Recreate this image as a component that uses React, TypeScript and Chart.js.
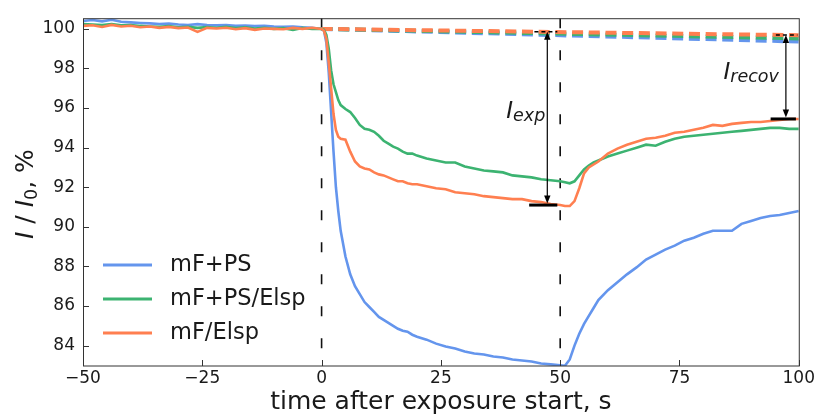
import { useEffect, useRef } from 'react';
import { Chart, registerables } from 'chart.js';

Chart.register(...registerables);

const FONT = '"DejaVu Sans", sans-serif';
const TEXT = '#1a1a1a';

const seriesNames = ['mF+PS', 'mF+PS/Elsp', 'mF/Elsp'];
const seriesColors = ['#6495ED', '#3CB371', '#FF7F50'];

const time = [
  -50, -48, -46, -44, -42, -40, -38, -36, -34, -32, -30, -28, -26, -24, -22, -20, -18, -16, -14, -12, -10, -8, -6, -4, -2,
  0, 0.5, 1, 1.5, 2, 2.5, 3, 3.5, 4,
  5, 6, 7, 8, 9, 10, 11, 12, 13, 14, 15, 16, 17, 18, 19, 20,
  22, 24, 26, 28, 30, 32, 34, 36, 38, 40, 42, 44, 46, 48, 50,
  51, 52, 53, 54, 55, 56, 57, 58,
  60, 62, 64, 66, 68, 70, 72, 74, 76, 78, 80, 82, 84, 86, 88, 90, 92, 94, 96, 98, 100,
];

const mfPS = [
  100.40, 100.45, 100.38, 100.46, 100.36, 100.33, 100.30, 100.28, 100.25, 100.27, 100.22, 100.20, 100.24, 100.20, 100.18, 100.19, 100.15, 100.17, 100.14, 100.16, 100.12, 100.10, 100.12, 100.08, 100.06,
  100.0, 99.9, 99.3, 97.8, 95.8, 93.8, 92.0, 90.8, 89.8,
  88.5, 87.6, 87.0, 86.6, 86.2, 85.95, 85.7, 85.45, 85.3, 85.15, 85.0, 84.85, 84.75, 84.7, 84.55, 84.45,
  84.3, 84.1, 83.95, 83.85, 83.7, 83.6, 83.55, 83.45, 83.4, 83.3, 83.25, 83.2, 83.1, 83.05, 83.0,
  82.98, 83.3, 84.0, 84.6, 85.1, 85.5, 85.9, 86.3,
  86.8, 87.2, 87.6, 87.95, 88.35, 88.6, 88.85, 89.05, 89.3, 89.45, 89.65, 89.8, 89.8, 89.8, 90.15, 90.3, 90.45, 90.55, 90.6, 90.7, 90.8,
];

const mfPSElsp = [
  100.25, 100.22, 100.20, 100.24, 100.18, 100.20, 100.15, 100.12, 100.10, 100.14, 100.08, 100.10, 100.05, 100.09, 100.06, 100.10, 100.04, 100.08, 100.02, 100.05, 100.00, 100.04, 99.95, 100.05, 100.00,
  100.0, 99.95, 99.7, 99.0, 97.9, 97.2, 96.8, 96.4, 96.15,
  95.95, 95.8, 95.5, 95.15, 94.95, 94.9, 94.8, 94.6, 94.35, 94.2, 94.05, 93.95, 93.8, 93.7, 93.7, 93.6,
  93.45, 93.35, 93.25, 93.25, 93.05, 92.95, 92.85, 92.8, 92.75, 92.6, 92.55, 92.5, 92.4, 92.35, 92.3,
  92.25, 92.2, 92.3, 92.6, 92.9, 93.1, 93.25, 93.35,
  93.55, 93.7, 93.85, 94.0, 94.15, 94.1, 94.3, 94.45, 94.55, 94.6, 94.65, 94.7, 94.75, 94.8, 94.85, 94.9, 94.95, 95.0, 95.0, 94.95, 94.95,
];

const mfElsp = [
  100.15, 100.18, 100.10, 100.20, 100.12, 100.16, 100.08, 100.12, 100.05, 100.10, 100.04, 100.07, 99.85, 100.05, 100.02, 100.06, 99.98, 100.04, 99.95, 100.02, 100.00, 99.98, 100.05, 100.00, 100.06,
  100.0, 99.9, 99.5, 98.3, 97.0, 95.7, 94.9, 94.55, 94.45,
  94.4, 93.8, 93.3, 93.05, 92.95, 92.9, 92.75, 92.65, 92.6, 92.5, 92.4, 92.3, 92.3, 92.2, 92.15, 92.15,
  92.05, 91.95, 91.9, 91.75, 91.7, 91.65, 91.55, 91.5, 91.45, 91.4, 91.4, 91.3, 91.25, 91.15, 91.1,
  91.05, 91.05, 91.3, 91.95, 92.7, 93.0, 93.15, 93.3,
  93.7, 93.95, 94.15, 94.3, 94.45, 94.5, 94.6, 94.75, 94.8, 94.9, 95.0, 95.15, 95.1, 95.2, 95.25, 95.3, 95.3, 95.35, 95.4, 95.45, 95.45,
];

// extrapolated baselines (dashed)
const baselineTime = [0, 100];
const baselinePS = [100.0, 99.36];
const baselinePSElsp = [100.0, 99.52];
const baselineElsp = [100.0, 99.68];

// exposure start / end markers
const markerTimes = [0, 50];

const xTicks = [-50, -25, 0, 25, 50, 75, 100];
const yTicks = [84, 86, 88, 90, 92, 94, 96, 98, 100];
const xMin = -50;
const xMax = 100;
const yMin = 82.97;
const yMax = 100.54;

// annotation anchors (data coordinates)
const expMark = { x: 47.3, top: 99.86, bottom: 91.1, barFrom: 43.5, barTo: 49.4, dashFrom: 44.6, dashTo: 49.4, labelY: 95.49, sub: 'exp' };
const recMark = { x: 97.3, top: 99.69, bottom: 95.45, barFrom: 94.1, barTo: 99.4, dashFrom: 95.2, dashTo: 99.7, labelY: 97.46, sub: 'recov' };

type Part = { t: string; size: number; italic?: boolean; dy?: number };

function fontOf(p: Part) {
  return `${p.italic ? 'italic ' : ''}${p.size}px ${FONT}`;
}
function measure(ctx: CanvasRenderingContext2D, parts: Part[]) {
  let w = 0;
  for (const p of parts) {
    ctx.font = fontOf(p);
    w += ctx.measureText(p.t).width;
  }
  return w;
}
function drawParts(ctx: CanvasRenderingContext2D, parts: Part[], x: number, y: number) {
  let cx = x;
  ctx.textAlign = 'left';
  ctx.textBaseline = 'alphabetic';
  for (const p of parts) {
    ctx.font = fontOf(p);
    ctx.fillText(p.t, cx, y + (p.dy || 0));
    cx += ctx.measureText(p.t).width;
  }
}

function arrowHead(ctx: CanvasRenderingContext2D, x: number, tipY: number, dir: number) {
  ctx.beginPath();
  ctx.moveTo(x, tipY);
  ctx.lineTo(x - 3.2, tipY + dir * 8);
  ctx.lineTo(x + 3.2, tipY + dir * 8);
  ctx.closePath();
  ctx.fill();
}

const overlayPlugin = {
  id: 'overlay',
  afterDatasetsDraw(chart: any) {
    const { ctx, chartArea: ca, scales } = chart;
    const xs = scales.x;
    const ys = scales.y;
    ctx.save();

    // spines
    ctx.strokeStyle = '#333';
    ctx.lineWidth = 1;
    ctx.strokeRect(ca.left + 0.5, ca.top + 0.5, ca.right - ca.left, ca.bottom - ca.top - 0.5);

    // inward ticks
    ctx.beginPath();
    for (const t of xs.ticks) {
      const px = Math.round(xs.getPixelForValue(t.value)) + 0.5;
      ctx.moveTo(px, ca.bottom);
      ctx.lineTo(px, ca.bottom - 6);
    }
    for (const t of ys.ticks) {
      const py = Math.round(ys.getPixelForValue(t.value)) + 0.5;
      ctx.moveTo(ca.left, py);
      ctx.lineTo(ca.left + 6, py);
    }
    ctx.stroke();

    // annotations
    ctx.strokeStyle = '#000';
    ctx.fillStyle = '#000';
    for (const m of [expMark, recMark]) {
      const ax = xs.getPixelForValue(m.x);
      const top = ys.getPixelForValue(m.top);
      const bot = ys.getPixelForValue(m.bottom);
      // short dashed reference at top
      ctx.lineWidth = 1.5;
      ctx.setLineDash([4, 3]);
      ctx.beginPath();
      ctx.moveTo(xs.getPixelForValue(m.dashFrom), top);
      ctx.lineTo(xs.getPixelForValue(m.dashTo), top);
      ctx.stroke();
      ctx.setLineDash([]);
      // bar at bottom
      ctx.lineWidth = 3;
      ctx.beginPath();
      ctx.moveTo(xs.getPixelForValue(m.barFrom), bot);
      ctx.lineTo(xs.getPixelForValue(m.barTo), bot);
      ctx.stroke();
      // double arrow
      ctx.lineWidth = 1.2;
      ctx.beginPath();
      ctx.moveTo(ax, top + 6);
      ctx.lineTo(ax, bot - 6);
      ctx.stroke();
      arrowHead(ctx, ax, top, 1);
      arrowHead(ctx, ax, bot - 1.5, -1);
    }

    // labels
    ctx.fillStyle = TEXT;
    const expParts: Part[] = [
      { t: 'I', size: 23, italic: true },
      { t: expMark.sub, size: 17.5, italic: true, dy: 3 },
    ];
    const ew = measure(ctx, expParts);
    drawParts(ctx, expParts, xs.getPixelForValue(expMark.x) - 2 - ew, ys.getPixelForValue(expMark.labelY));
    const recParts: Part[] = [
      { t: 'I', size: 23, italic: true },
      { t: recMark.sub, size: 17.5, italic: true, dy: 3 },
    ];
    const rw = measure(ctx, recParts);
    drawParts(ctx, recParts, xs.getPixelForValue(recMark.x) - 7 - rw, ys.getPixelForValue(recMark.labelY));

    // legend
    const legendSets = chart.data.datasets.filter((d: any) => d.inLegend);
    const n = legendSets.length;
    legendSets.forEach((d: any, i: number) => {
      const ry = ca.bottom - 33 - 34 * (n - 1 - i);
      ctx.strokeStyle = d.borderColor;
      ctx.lineWidth = 3;
      ctx.beginPath();
      ctx.moveTo(ca.left + 20, ry);
      ctx.lineTo(ca.left + 69, ry);
      ctx.stroke();
      ctx.fillStyle = TEXT;
      ctx.font = `22.5px ${FONT}`;
      ctx.textAlign = 'left';
      ctx.textBaseline = 'middle';
      ctx.fillText(d.label, ca.left + 87, ry);
    });

    // y-axis title
    const yParts: Part[] = [
      { t: 'I', size: 25, italic: true },
      { t: ' / ', size: 25 },
      { t: 'I', size: 25, italic: true },
      { t: '0', size: 17.5, dy: 4 },
      { t: ', %', size: 25 },
    ];
    const yw = measure(ctx, yParts);
    ctx.translate(33, (ca.top + ca.bottom) / 2 + 2);
    ctx.rotate(-Math.PI / 2);
    ctx.fillStyle = TEXT;
    drawParts(ctx, yParts, -yw / 2, 0);

    ctx.restore();
  },
};

const fmt = (v: number) => (v < 0 ? '\u2212' + Math.abs(v) : String(v));

export default function App() {
  const ref = useRef<HTMLCanvasElement | null>(null);

  useEffect(() => {
    document.body.style.margin = '0';
    const canvas = ref.current;
    if (!canvas) return;

    const pts = (xsArr: number[], ysArr: number[]) => xsArr.map((x, i) => ({ x, y: ysArr[i] }));
    const mainSeries = [mfPS, mfPSElsp, mfElsp];
    const baselines = [baselinePS, baselinePSElsp, baselineElsp];

    const datasets: any[] = [];
    mainSeries.forEach((s, i) => {
      datasets.push({
        label: seriesNames[i],
        inLegend: true,
        data: pts(time, s),
        borderColor: seriesColors[i],
        borderWidth: 2.6,
        pointRadius: 0,
        tension: 0,
        order: 3 - i,
      });
    });
    baselines.forEach((s, i) => {
      datasets.push({
        label: '',
        data: pts(baselineTime, s),
        borderColor: seriesColors[i],
        borderWidth: 4,
        borderDash: [11, 5.7],
        pointRadius: 0,
        order: 7 - i,
      });
    });
    markerTimes.forEach((t) => {
      datasets.push({
        label: '',
        data: [
          { x: t, y: yMax },
          { x: t, y: yMin },
        ],
        borderColor: '#111',
        borderWidth: 1.6,
        borderDash: [10, 22],
        pointRadius: 0,
        order: 10,
      });
    });

    const chart = new Chart(canvas, {
      type: 'line',
      data: { datasets },
      options: {
        animation: false,
        responsive: false,
        devicePixelRatio: 1,
        layout: { padding: { left: 0, top: 16, right: 17, bottom: 0 } },
        plugins: { legend: { display: false }, tooltip: { enabled: false } },
        scales: {
          x: {
            type: 'linear',
            min: xMin,
            max: xMax,
            grid: { display: false, drawTicks: false },
            border: { display: false },
            afterBuildTicks: (s: any) => {
              s.ticks = xTicks.map((v) => ({ value: v }));
            },
            afterFit: (s: any) => {
              s.height = 51;
            },
            ticks: {
              padding: 2,
              autoSkip: false,
              maxRotation: 0,
              color: TEXT,
              font: { family: FONT, size: 17 },
              callback: (v: any) => fmt(Number(v)),
            },
            title: {
              display: true,
              text: 'time after exposure start, s',
              color: TEXT,
              font: { family: FONT, size: 25 },
              padding: { top: 0, bottom: 0 },
            },
          },
          y: {
            type: 'linear',
            min: yMin,
            max: yMax,
            grid: { display: false, drawTicks: false },
            border: { display: false },
            afterBuildTicks: (s: any) => {
              s.ticks = yTicks.map((v) => ({ value: v }));
            },
            afterFit: (s: any) => {
              s.width = 83;
            },
            ticks: {
              padding: 8,
              autoSkip: false,
              color: TEXT,
              font: { family: FONT, size: 17 },
              callback: (v: any) => fmt(Number(v)),
            },
          },
        },
      },
      plugins: [overlayPlugin],
    });

    return () => chart.destroy();
  }, []);

  return (
    <div style={{ width: 817, height: 417 }}>
      <canvas ref={ref} width={817} height={417} style={{ display: 'block' }} />
    </div>
  );
}
